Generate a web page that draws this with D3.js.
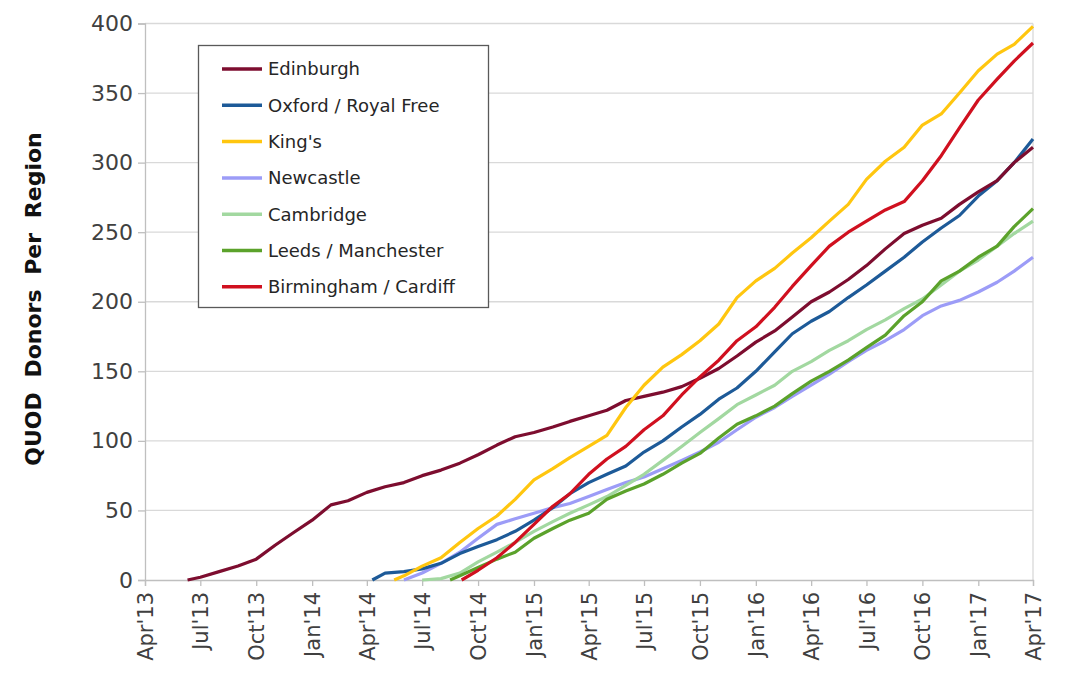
<!DOCTYPE html>
<html><head><meta charset="utf-8">
<script src="https://cdn.jsdelivr.net/npm/d3@7"></script>
<style>body{margin:0;background:#fff}svg{display:block}</style>
</head><body>
<svg id="c" width="1067" height="677"></svg>
<script>
// Month index m -> first day of month (m=0 is Apr 2013)
const monthDates = d3.range(0, 49).map(m => new Date(2013, 3 + m, 1));
const xTickLabels = ["Apr'13","Jul'13","Oct'13","Jan'14","Apr'14","Jul'14","Oct'14","Jan'15","Apr'15","Jul'15","Oct'15","Jan'16","Apr'16","Jul'16","Oct'16","Jan'17","Apr'17"];
const yTicks = [0,50,100,150,200,250,300,350,400];

const seriesNames = ["Edinburgh","Oxford / Royal Free","King's","Newcastle","Cambridge","Leeds / Manchester","Birmingham / Cardiff"];
const seriesColors = ["#7d0d2f","#1d5a98","#ffc60f","#9c9cf7","#a2d8a0","#5ba22b","#d0101f"];
// date at which each series starts at zero
const startDates = ["2013-06-10","2014-04-10","2014-05-16","2014-06-01","2014-07-01","2014-08-16","2014-09-04"];
// monthly cumulative values, index = months since Apr 2013 (null = no data)
const N = null;
const edinburgh = [N,N,N,2,6,10,15,25,34,43,54,57,63,67,70,75,79,84,90,97,103,106,110,114,118,122,129,132,135,139,145,152,161,171,179,189,200,207,216,226,238,249,255,260,270,279,287,300,311];
const oxford    = [N,N,N,N,N,N,N,N,N,N,N,N,N,5,6,8,12,19,24,29,35,43,52,62,70,76,82,92,100,110,119,130,138,150,164,177,186,193,203,212,222,232,243,253,262,276,287,300,317];
const kings     = [N,N,N,N,N,N,N,N,N,N,N,N,N,N,3,10,16,27,37,46,58,72,80,88,96,104,124,140,153,162,172,184,203,215,224,235,246,258,270,288,301,311,327,335,350,366,378,385,398];
const newcastle = [N,N,N,N,N,N,N,N,N,N,N,N,N,N,N,5,12,20,30,40,44,48,52,55,60,65,70,74,80,86,92,99,108,117,124,132,140,148,157,165,172,180,190,197,201,207,214,222,232];
const cambridge = [N,N,N,N,N,N,N,N,N,N,N,N,N,N,N,N,1,5,13,20,27,35,42,48,54,60,68,76,86,96,106,116,126,133,140,150,157,165,172,180,187,195,202,212,222,230,240,249,258];
const leeds     = [N,N,N,N,N,N,N,N,N,N,N,N,N,N,N,N,N,3,9,15,20,30,37,43,48,58,64,69,76,84,91,102,112,118,125,134,143,150,158,167,176,190,200,215,222,232,240,254,267];
const birmingham= [N,N,N,N,N,N,N,N,N,N,N,N,N,N,N,N,N,N,7,16,27,40,53,62,76,87,96,108,118,133,146,158,172,182,196,211,226,240,250,258,266,272,287,305,325,345,360,373,386];
const seriesValues = [edinburgh, oxford, kings, newcastle, cambridge, leeds, birmingham];

const svg = d3.select("#c");
const L = 145, R = 1033, T = 23.5, B = 580;
const x = d3.scaleTime().domain([new Date(2013,3,1), new Date(2017,3,1)]).range([L, R]);
const y = d3.scaleLinear().domain([0, 400]).range([B, T]);

// gridlines
svg.append("g").selectAll("line").data(yTicks.filter(d => d > 0)).join("line")
  .attr("x1", L).attr("x2", R).attr("y1", d => y(d)).attr("y2", d => y(d))
  .attr("stroke", "#d9d9d9").attr("stroke-width", 1.3);
// right border
svg.append("line").attr("x1", R).attr("x2", R).attr("y1", T).attr("y2", B)
  .attr("stroke", "#d9d9d9").attr("stroke-width", 1.3);

// y axis
const yAxis = svg.append("g").attr("transform", `translate(${L},0)`)
  .call(d3.axisLeft(y).tickValues(yTicks).tickSize(7).tickPadding(5).tickFormat(d3.format("d")));
yAxis.select(".domain").attr("stroke", "#bfbfbf").attr("stroke-width", 1.3);
yAxis.selectAll(".tick line").attr("stroke", "#bfbfbf").attr("stroke-width", 1.3);
yAxis.selectAll("text").attr("font-family", "DejaVu Sans").attr("font-size", 22).attr("fill", "#404040");

// x axis
const xTickDates = d3.range(0, 49, 3).map(m => monthDates[m]);
const xAxis = svg.append("g").attr("transform", `translate(0,${B})`)
  .call(d3.axisBottom(x).tickValues(xTickDates).tickSize(6).tickFormat((d, i) => xTickLabels[i]));
xAxis.select(".domain").attr("stroke", "#bfbfbf").attr("stroke-width", 1.3);
xAxis.selectAll(".tick line").attr("stroke", "#bfbfbf").attr("stroke-width", 1.3);
xAxis.selectAll("text").attr("font-family", "DejaVu Sans").attr("font-size", 21).attr("fill", "#404040")
  .attr("transform", "rotate(-90)").attr("text-anchor", "end").attr("dx", "-12").attr("dy", "0.36em").attr("y", 0);

// y title
svg.append("text").attr("transform", "translate(41,299) rotate(-90)")
  .attr("text-anchor", "middle").attr("font-family", "DejaVu Sans").attr("font-weight", "bold")
  .attr("font-size", 22).attr("word-spacing", 7).attr("fill", "#111")
  .text("QUOD Donors Per Region");

// lines
const line = d3.line().x(d => x(d.date)).y(d => y(d.v)).curve(d3.curveLinear);
const plotOrder = [3, 4, 5, 1, 0, 6, 2];
plotOrder.forEach(i => {
  const pts = [{date: new Date(startDates[i] + "T00:00:00"), v: 0}];
  seriesValues[i].forEach((v, m) => { if (v !== null) pts.push({date: monthDates[m], v}); });
  svg.append("path").datum(pts).attr("d", line).attr("fill", "none")
    .attr("stroke", seriesColors[i]).attr("stroke-width", 3.2).attr("stroke-linejoin", "round");
});

// legend
const lg = svg.append("g");
lg.append("rect").attr("x", 198.5).attr("y", 45.5).attr("width", 290).attr("height", 262)
  .attr("fill", "#fff").attr("stroke", "#595959").attr("stroke-width", 1.3);
seriesNames.forEach((n, i) => {
  const yy = 69 + i * 36.3;
  lg.append("line").attr("x1", 222).attr("x2", 262).attr("y1", yy).attr("y2", yy)
    .attr("stroke", seriesColors[i]).attr("stroke-width", 3.5);
  lg.append("text").attr("x", 268).attr("y", yy).attr("dy", "0.35em")
    .attr("font-family", "DejaVu Sans").attr("font-size", 18).attr("fill", "#262626").text(n);
});
</script>
</body></html>
